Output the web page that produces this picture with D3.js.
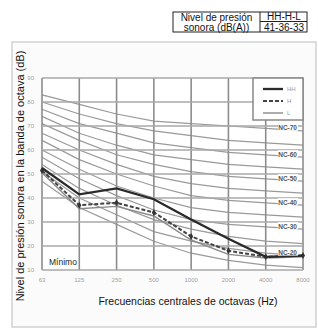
<!DOCTYPE html>
<html>
<head>
<meta charset="utf-8">
<script src="https://cdn.jsdelivr.net/npm/d3@7"></script>
<style>
  body { margin: 0; background: #fff; }
  svg { display: block; font-family: "Liberation Sans", Arial, sans-serif; }
</style>
</head>
<body>
<svg width="318" height="329"></svg>
<script>
// octave bands and dB ticks
var bands = ['63', '125', '250', '500', '1000', '2000', '4000', '8000']
var yTicks = [90, 80, 70, 60, 50, 40, 30, 20, 10]

// NC reference curves (dB per octave band)
var ncNames = ['NC-15', 'NC-20', 'NC-25', 'NC-30', 'NC-35', 'NC-40', 'NC-45', 'NC-50', 'NC-55', 'NC-60', 'NC-65', 'NC-70']
var ncValues = [
  [47, 36, 29, 22, 17, 14, 12, 11],
  [51, 40, 33, 26, 22, 19, 17, 16],
  [54, 44, 37, 31, 27, 24, 22, 21],
  [57, 48, 41, 35, 31, 29, 28, 27],
  [60, 52, 45, 40, 36, 34, 33, 32],
  [64, 56, 50, 45, 41, 39, 38, 37],
  [67, 60, 54, 49, 46, 44, 43, 42],
  [71, 64, 58, 54, 51, 49, 48, 47],
  [74, 67, 62, 58, 56, 54, 53, 52],
  [77, 71, 67, 63, 61, 59, 58, 57],
  [80, 75, 71, 68, 66, 64, 63, 62],
  [83, 79, 75, 72, 71, 70, 69, 68]
]
var ncLabelled = ['NC-20', 'NC-30', 'NC-40', 'NC-50', 'NC-60', 'NC-70']

// measured spectra, fan speeds HH / H / L
var seriesNames = ['HH', 'H', 'L']
var seriesHH = [52.5, 41.5, 44, 39.5, 31, 23, 15.5, 16]
var seriesH = [51.5, 37, 38, 34, 24, 18, 15.5, 16]
var seriesL = [50.5, 35.5, 36.5, 32.5, 22.5, 16.5, 15, 15.5]

var svg = d3.select('svg')

// scanned frame
svg.append('rect')
  .attr('x', 12).attr('y', 42).attr('width', 304).attr('height', 285)
  .attr('fill', '#fbfbfb').attr('stroke', '#d2d2d2').attr('stroke-width', 1.5)

// table at the top
var tbl = svg.append('g')
tbl.append('rect')
  .attr('x', 173).attr('y', 12).attr('width', 134).attr('height', 20)
  .attr('fill', '#fff').attr('stroke', '#222').attr('stroke-width', 1)
tbl.append('line').attr('x1', 260).attr('x2', 260).attr('y1', 12).attr('y2', 32).attr('stroke', '#222')
tbl.append('line').attr('x1', 260).attr('x2', 307).attr('y1', 21.5).attr('y2', 21.5).attr('stroke', '#222')
tbl.selectAll('text.t')
  .data([
    { t: 'Nivel de presión', x: 216.5, y: 20.5 },
    { t: 'sonora (dB(A))', x: 216.5, y: 30.5 },
    { t: 'HH-H-L', x: 284, y: 20 },
    { t: '41-36-33', x: 284, y: 30.5 }
  ])
  .enter().append('text')
  .attr('x', d => d.x).attr('y', d => d.y)
  .attr('text-anchor', 'middle')
  .attr('font-size', 10).attr('fill', '#111')
  .text(d => d.t)

// scales
var x = d3.scalePoint().domain(bands).range([42, 303])
var y = d3.scaleLinear().domain([10, 90]).range([270, 78])

var plot = svg.append('g')

// plot background
plot.append('rect')
  .attr('x', 42).attr('y', 78).attr('width', 261).attr('height', 192)
  .attr('fill', '#fff')

// NC curves
var line = d3.line().x((d, i) => x(bands[i])).y(d => y(d))
plot.selectAll('path.nc')
  .data(ncValues)
  .enter().append('path')
  .attr('class', 'nc')
  .attr('d', line)
  .attr('fill', 'none').attr('stroke', '#9a9a9a').attr('stroke-width', 1.2)

// grid
plot.selectAll('line.vg')
  .data(bands)
  .enter().append('line')
  .attr('x1', d => x(d)).attr('x2', d => x(d))
  .attr('y1', y(90)).attr('y2', y(10))
  .attr('stroke', '#8c8c8c').attr('stroke-width', 1.6)
plot.selectAll('line.hg')
  .data(yTicks)
  .enter().append('line')
  .attr('x1', x(bands[0])).attr('x2', x(bands[bands.length - 1]))
  .attr('y1', d => y(d)).attr('y2', d => y(d))
  .attr('stroke', '#a8a8a8').attr('stroke-width', 1.5)

// tick labels, faint like the scan
svg.append('g').selectAll('text')
  .data(yTicks)
  .enter().append('text')
  .attr('x', 34).attr('y', d => y(d) + 2)
  .attr('text-anchor', 'end')
  .attr('font-size', 6).attr('fill', '#a0a0a0')
  .text(d => d)
svg.append('g').selectAll('text')
  .data(bands)
  .enter().append('text')
  .attr('x', d => x(d)).attr('y', 282)
  .attr('text-anchor', 'middle')
  .attr('font-size', 6).attr('fill', '#a0a0a0')
  .text(d => d)

// measured lines
plot.append('path').datum(seriesL)
  .attr('d', line).attr('fill', 'none')
  .attr('stroke', '#8a8a8a').attr('stroke-width', 1.4)
plot.append('path').datum(seriesH)
  .attr('d', line).attr('fill', 'none')
  .attr('stroke', '#444').attr('stroke-width', 2)
  .attr('stroke-dasharray', '4,2')
plot.selectAll('path.mk')
  .data(seriesH)
  .enter().append('path')
  .attr('transform', (d, i) => 'translate(' + x(bands[i]) + ',' + y(d) + ')')
  .attr('d', d3.symbol().type(d3.symbolDiamond).size(14))
  .attr('fill', '#333')
plot.append('path').datum(seriesHH)
  .attr('d', line).attr('fill', 'none')
  .attr('stroke', '#2a2a2a').attr('stroke-width', 2.3)

// NC labels at the right
var lab = plot.selectAll('g.ncl')
  .data(ncLabelled)
  .enter().append('g')
  .attr('transform', d => 'translate(297,' + (y(ncValues[ncNames.indexOf(d)][7]) - 2) + ')')
lab.append('rect')
  .attr('x', -19).attr('y', -5).attr('width', 20).attr('height', 7)
  .attr('fill', '#fff')
lab.append('text')
  .attr('text-anchor', 'end').attr('y', 1.5)
  .attr('font-size', 6.5).attr('font-weight', 'bold').attr('fill', '#555')
  .text(d => d)

// legend
var leg = plot.append('g')
leg.append('rect')
  .attr('x', 253).attr('y', 78).attr('width', 50).attr('height', 42)
  .attr('fill', '#fff').attr('stroke', '#888').attr('stroke-width', 1.5)
var legStyles = [
  { w: 2.3, c: '#2a2a2a', dash: null },
  { w: 2, c: '#444', dash: '4,2' },
  { w: 1.4, c: '#8a8a8a', dash: null }
]
seriesNames.forEach(function(name, i) {
  var ly = 89 + i * 12
  leg.append('line')
    .attr('x1', 263).attr('x2', 283).attr('y1', ly).attr('y2', ly)
    .attr('stroke', legStyles[i].c).attr('stroke-width', legStyles[i].w)
    .attr('stroke-dasharray', legStyles[i].dash)
  leg.append('text')
    .attr('x', 287).attr('y', ly + 2)
    .attr('font-size', 6).attr('fill', '#999')
    .text(name)
})

// annotations and axis titles
svg.append('text')
  .attr('x', 49).attr('y', 265)
  .attr('font-size', 8.5).attr('fill', '#222')
  .text('Mínimo')
svg.append('text')
  .attr('x', 188).attr('y', 305)
  .attr('text-anchor', 'middle')
  .attr('font-size', 10.5).attr('fill', '#111')
  .text('Frecuencias centrales de octavas (Hz)')
svg.append('text')
  .attr('transform', 'translate(24,176) rotate(-90)')
  .attr('text-anchor', 'middle')
  .attr('font-size', 11).attr('fill', '#111')
  .text('Nivel de presión sonora en la banda de octava (dB)')
</script>
</body>
</html>
